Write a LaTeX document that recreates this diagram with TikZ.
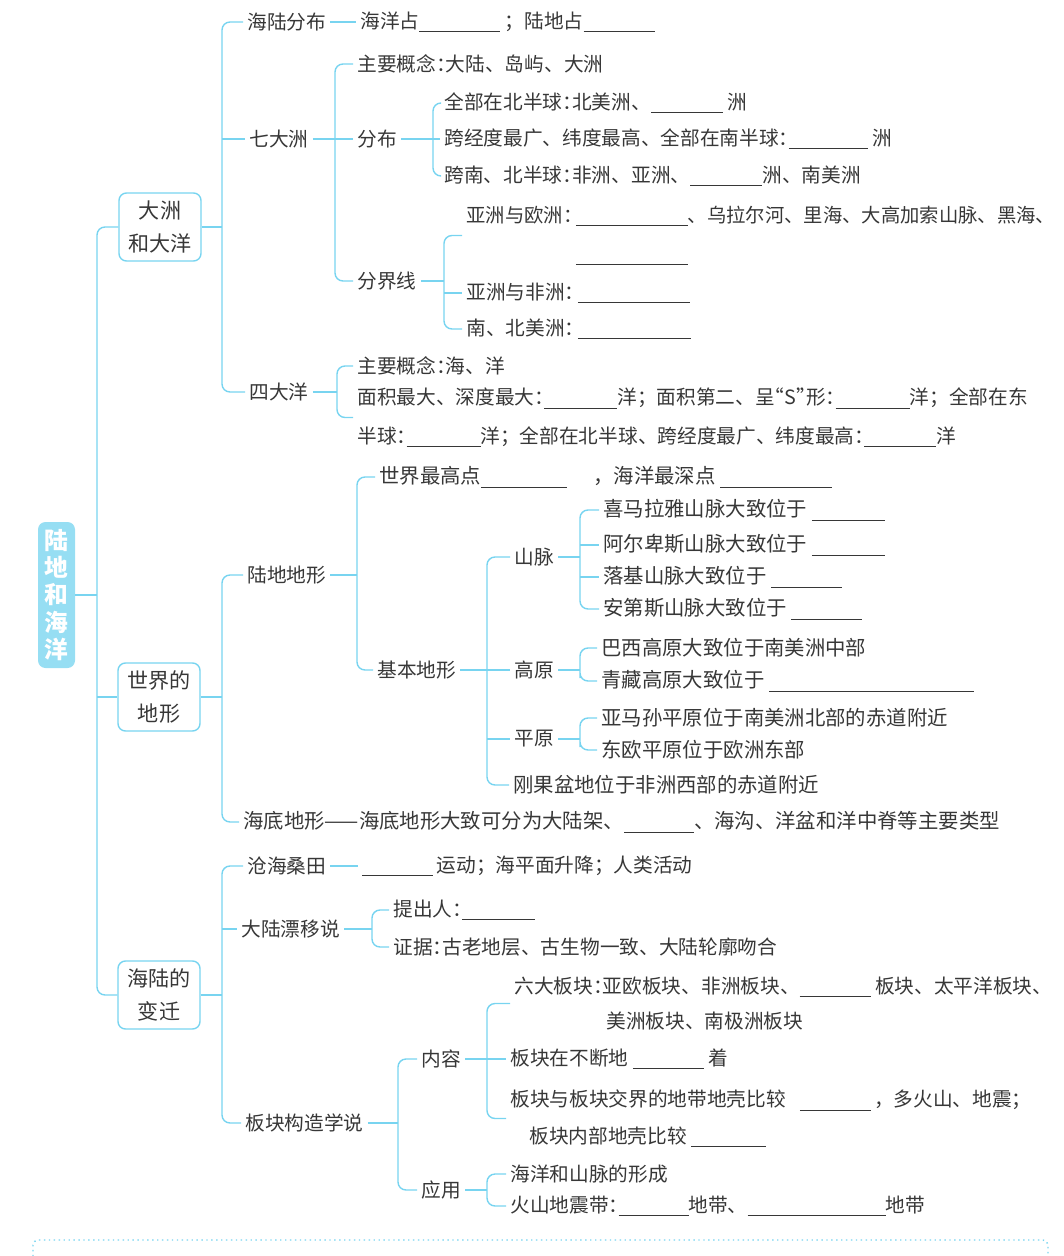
\documentclass[tikz,border=0pt]{standalone}
\usepackage{fontspec}
\setmainfont{Noto Sans CJK SC}
\newfontfamily\halffont{Noto Sans CJK SC}[RawFeature=+halt]
\usetikzlibrary{positioning}
\definecolor{mapcyan}{RGB}{120, 212, 240}
\definecolor{rootcyan}{RGB}{150, 222, 243}
\definecolor{inkgray}{RGB}{55, 55, 55}
\newdimen\pxu \pxu=0.2mm
\newcommand{\blank}[1]{\rule[-0.2em]{#1\pxu}{0.5pt}}
\newcommand{\cln}{{\halffont ：}}

\begin{document}
\begin{tikzpicture}[x=0.2mm, y=-0.2mm,
        link/.style={draw=mapcyan, line width=0.8pt},
        elbow/.style={link, rounded corners=1.6mm},
        leaf/.style={anchor=west, inner xsep=0.8mm, inner ysep=0pt,
                    text=inkgray, align=left,
                    font=\fontsize{11.2}{22}\selectfont},
        leafwide/.style={leaf, font=\fontsize{11.6}{22}\selectfont},
        topic/.style={draw=mapcyan, line width=0.8pt, rounded corners=1.5mm,
                    minimum width=16.4mm, minimum height=13.6mm, align=center,
                    text=inkgray, font=\fontsize{12}{18.5}\selectfont},
        rootbox/.style={fill=rootcyan, rounded corners=1.5mm,
                    minimum width=7.4mm, minimum height=29.2mm, align=center,
                    text=white, font=\bfseries\fontsize{13.5}{15.5}\selectfont}
    ]
    \useasboundingbox (0,0) rectangle (1063,1256);

    % Trunk positions
    \coordinate (t0) at (97,0);
    \coordinate (t1) at (222,0);
    \coordinate (t2) at (335,0);
    \coordinate (t3) at (433,0);
    \coordinate (t4) at (444,0);
    \coordinate (t5) at (337,0);
    \coordinate (t6) at (357,0);
    \coordinate (t7) at (487,0);
    \coordinate (t8) at (580,0);
    \coordinate (t9) at (372,0);
    \coordinate (t10) at (398,0);

    % Root and topics
    \node[rootbox] (root) at (56.5,595) {陆\\地\\和\\海\\洋};
    \node[topic] (zhouyang) at (160,227) {大洲\\和大洋};
    \node[topic] (dixing)   at (159,697) {世界的\\地形};
    \node[topic] (bianqian) at (159,995) {海陆的\\变迁};

    % 大洲和大洋
    \node[leaf] (haifen) at (243,22) {海陆分布};
    \node[leaf] (haiyang) at (356,22) {海洋占\blank{81}\ ；陆地占\blank{71}};
    \node[leaf] (qizhou) at (245,139) {七大洲};
    \node[leaf] (gainian1) at (353,64) {主要概念\cln 大陆、岛屿、大洲};
    \node[leaf] (fenbu) at (353,139) {分布};
    \node[leaf] (bei) at (440,103) {全部在北半球\cln 北美洲、\blank{72}\ 洲};
    \node[leaf] (kua) at (440,139) {跨经度最广、纬度最高、全部在南半球\cln\blank{79}\ 洲};
    \node[leaf] (nanbei) at (440,176) {跨南、北半球\cln 非洲、亚洲、\blank{72}洲、南美洲};
    \node[leaf] (fenjie) at (353,281) {分界线};
    \node[leaf, font=\fontsize{11}{22}\selectfont] (ouzhou) at (462,235.5) {亚洲与欧洲\cln\,\blank{112}、乌拉尔河、里海、大高加索山脉、黑海、\\\phantom{亚洲与欧洲\cln\,}\blank{112}};
    \node[leaf] (feizhou) at (462,293) {亚洲与非洲\cln\,\blank{112}};
    \node[leaf] (meizhou) at (462,329) {南、北美洲\cln\,\blank{113}};
    \node[leaf] (sida) at (245,392) {四大洋};
    \node[leaf] (gainian2) at (353,366) {主要概念\cln 海、洋};
    \node[leaf] (mianji) at (353,417.5) {面积最大、深度最大\cln\blank{73}洋；面积第二、呈{\halffont “S”}形\cln\blank{74}洋；全部在东\\半球\cln\blank{74}洋；全部在北半球、跨经度最广、纬度最高\cln\blank{72}洋};

    % 世界的地形
    \node[leaf] (ludi) at (243,575) {陆地地形};
    \node[leafwide] (zuigao) at (375,477) {世界最高点\blank{86}\hspace{26\pxu}，海洋最深点\ \blank{112}};
    \node[leaf] (jiben) at (373,670) {基本地形};
    \node[leaf] (shanmai) at (510,557) {山脉};
    \node[leafwide] (ximalaya) at (599,510) {喜马拉雅山脉大致位于\ \blank{73}};
    \node[leafwide] (aer) at (599,545) {阿尔卑斯山脉大致位于\ \blank{73}};
    \node[leafwide] (luoji) at (599,577) {落基山脉大致位于\ \blank{71}};
    \node[leafwide] (andi) at (599,609) {安第斯山脉大致位于\ \blank{71}};
    \node[leaf] (gaoyuan) at (510,670) {高原};
    \node[leafwide] (baxi) at (597,648) {巴西高原大致位于南美洲中部};
    \node[leafwide] (qingzang) at (597,681) {青藏高原大致位于\ \blank{205}};
    \node[leaf] (pingyuan) at (510,739) {平原};
    \node[leafwide] (yamaxun) at (597,718) {亚马孙平原位于南美洲北部的赤道附近};
    \node[leafwide] (dongou) at (597,750) {东欧平原位于欧洲东部};
    \node[leafwide] (gangguo) at (509,785) {刚果盆地位于非洲西部的赤道附近};
    \node[leafwide] (haidi) at (239,822) {海底地形——海底地形大致可分为大陆架、\blank{70}、海沟、洋盆和洋中脊等主要类型};

    % 海陆的变迁
    \node[leaf] (canghai) at (243,866) {沧海桑田};
    \node[leaf] (yundong) at (358,866) {\blank{71}\,运动；海平面升降；人类活动};
    \node[leaf] (piaoyi) at (237,929) {大陆漂移说};
    \node[leaf] (tichu) at (389,910) {提出人\cln\blank{73}};
    \node[leaf] (zhengju) at (389,947) {证据\cln 古老地层、古生物一致、大陆轮廓吻合};
    \node[leaf] (bankuai) at (241,1123) {板块构造学说};
    \node[leaf] (neirong) at (417,1059) {内容};
    \node[leaf, font=\fontsize{11.2}{20}\selectfont] (liuda) at (510,1003.5) {六大板块\cln 亚欧板块、非洲板块、\blank{71}\ 板块、太平洋板块、\\\hspace{92\pxu}美洲板块、南极洲板块};
    \node[leaf] (buduan) at (506,1059) {板块在不断地\ \blank{71}\ 着};
    \node[leaf, font=\fontsize{11.2}{21}\selectfont] (jiaojie) at (506,1118.5) {板块与板块交界的地带地壳比较\hspace{14\pxu}\blank{71}\,，多火山、地震；\\\hspace{19\pxu}板块内部地壳比较\ \blank{75}};
    \node[leaf] (yingyong) at (417,1190) {应用};
    \node[leaf] (xingcheng) at (506,1174) {海洋和山脉的形成};
    \node[leaf] (daidai) at (506,1206) {火山地震带\cln\blank{70}地带、\blank{138}地带};

    % Root links
    \draw[link] (root.east) -- (root.east -| t0);
    \draw[elbow] (zhouyang.west) -| (root.east -| t0) |- (bianqian.west);
    \draw[link] (dixing.west -| t0) -- (dixing.west);

    % 大洲和大洋 links
    \draw[link] (zhouyang.east) -- (zhouyang.east -| t1);
    \draw[elbow] (haifen.west) -| (zhouyang.east -| t1) |- (sida.west);
    \draw[link] (qizhou.west -| t1) -- (qizhou.west);
    \draw[link] (haifen.east) -- (haiyang.west);
    \draw[link] (qizhou.east) -- (fenbu.west);
    \draw[elbow] (gainian1.west) -| (qizhou.east -| t2) |- (fenjie.west);
    \draw[link] (fenbu.east) -- (kua.west);
    \draw[elbow] (bei.west) -| (fenbu.east -| t3) |- (nanbei.west);
    \draw[link] (fenjie.east) -- (fenjie.east -| t4);
    \draw[elbow] (ouzhou.west) -| (fenjie.east -| t4) |- (meizhou.west);
    \draw[link] (feizhou.west -| t4) -- (feizhou.west);
    \draw[link] (sida.east) -- (sida.east -| t5);
    \draw[elbow] (gainian2.west) -| (sida.east -| t5) |- (mianji.west);

    % 世界的地形 links
    \draw[link] (dixing.east) -- (dixing.east -| t1);
    \draw[elbow] (ludi.west) -| (dixing.east -| t1) |- (haidi.west);
    \draw[link] (ludi.east) -- (ludi.east -| t6);
    \draw[elbow] (zuigao.west) -| (ludi.east -| t6) |- (jiben.west);
    \draw[link] (jiben.east) -- (jiben.east -| t7);
    \draw[elbow] (shanmai.west) -| (jiben.east -| t7) |- (gangguo.west);
    \draw[link] (gaoyuan.west -| t7) -- (gaoyuan.west);
    \draw[link] (pingyuan.west -| t7) -- (pingyuan.west);
    \draw[link] (shanmai.east) -- (shanmai.east -| t8);
    \draw[elbow] (ximalaya.west) -| (shanmai.east -| t8) |- (andi.west);
    \draw[link] (aer.west -| t8) -- (aer.west);
    \draw[link] (luoji.west -| t8) -- (luoji.west);
    \draw[link] (gaoyuan.east) -- (gaoyuan.east -| t8);
    \draw[elbow] (baxi.west) -| (gaoyuan.east -| t8) |- (qingzang.west);
    \draw[link] (pingyuan.east) -- (pingyuan.east -| t8);
    \draw[elbow] (yamaxun.west) -| (pingyuan.east -| t8) |- (dongou.west);

    % 海陆的变迁 links
    \draw[link] (bianqian.east) -- (bianqian.east -| t1);
    \draw[elbow] (canghai.west) -| (bianqian.east -| t1) |- (bankuai.west);
    \draw[link] (piaoyi.west -| t1) -- (piaoyi.west);
    \draw[link] (canghai.east) -- (yundong.west);
    \draw[link] (piaoyi.east) -- (piaoyi.east -| t9);
    \draw[elbow] (tichu.west) -| (piaoyi.east -| t9) |- (zhengju.west);
    \draw[link] (bankuai.east) -- (bankuai.east -| t10);
    \draw[elbow] (neirong.west) -| (bankuai.east -| t10) |- (yingyong.west);
    \draw[link] (neirong.east) -- (buduan.west);
    \draw[elbow] (liuda.west) -| (neirong.east -| t7) |- (jiaojie.west);
    \draw[link] (yingyong.east) -- (yingyong.east -| t7);
    \draw[elbow] (xingcheng.west) -| (yingyong.east -| t7) |- (daidai.west);

    % Answer strip (cut off at the bottom)
    \draw[mapcyan, dotted, line width=0.8pt, rounded corners=1mm] (33,1240) rectangle (1048,1300);
\end{tikzpicture}
\end{document}
